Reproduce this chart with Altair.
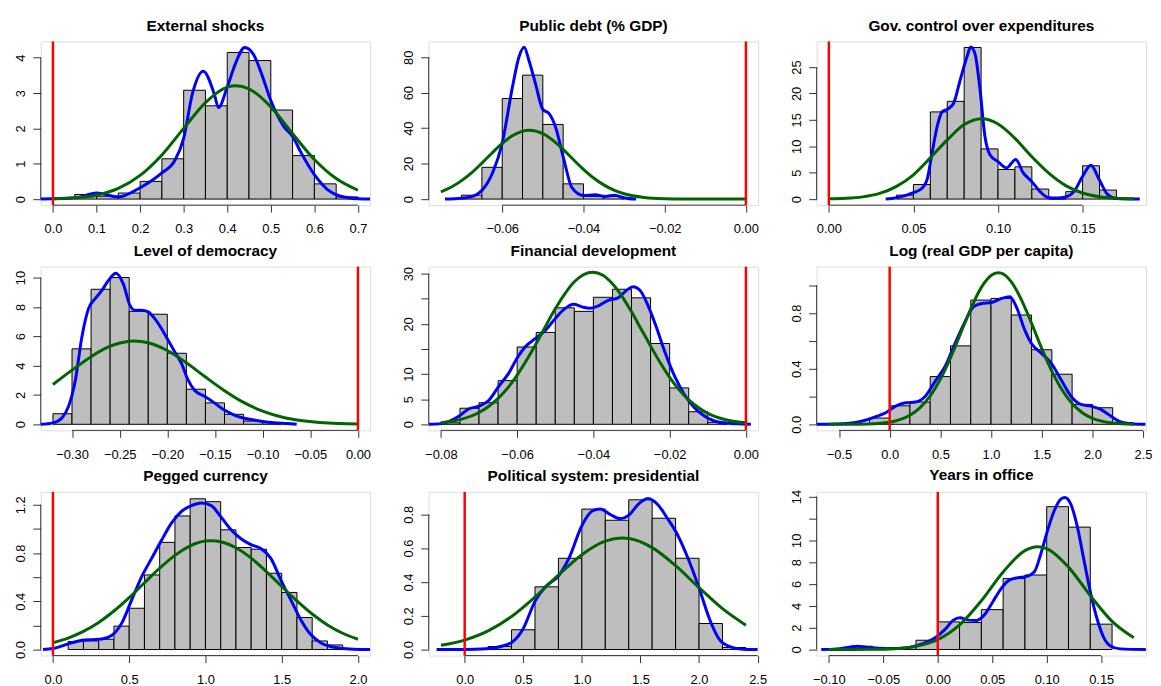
import altair as alt
import pandas as pd

FONT = "Liberation Sans"
W, H = 332, 165

# ---------------- data ----------------
titles = ["External shocks", "Public debt (% GDP)", "Gov. control over expenditures",
          "Level of democracy", "Financial development", "Log (real GDP per capita)",
          "Pegged currency", "Political system: presidential", "Years in office"]

# histogram bin edges and bar heights (density)
p1_edges = [0.05, 0.10, 0.15, 0.20, 0.25, 0.30, 0.35, 0.40, 0.45, 0.50, 0.55, 0.60, 0.65, 0.70]
p1_heights = [0.13, 0.08, 0.17, 0.50, 1.14, 3.08, 2.64, 4.15, 3.92, 2.52, 1.23, 0.43, 0.06]
p2_edges = [-0.070, -0.065, -0.060, -0.055, -0.050, -0.045, -0.040, -0.035, -0.030]
p2_heights = [2.2, 17.9, 56.7, 69.9, 42.1, 8.6, 1.5, 1.5]
p3_edges = [0.04, 0.05, 0.06, 0.07, 0.08, 0.09, 0.10, 0.11, 0.12, 0.13, 0.14, 0.15, 0.16, 0.17]
p3_heights = [0.75, 2.76, 16.5, 18.5, 28.7, 9.5, 5.6, 6.1, 1.9, 0.0, 1.4, 6.3, 1.7]
p4_edges = [-0.32, -0.30, -0.28, -0.26, -0.24, -0.22, -0.20, -0.18, -0.16, -0.14, -0.12, -0.10, -0.08]
p4_heights = [0.72, 5.14, 9.2, 10.0, 7.7, 7.5, 4.84, 2.39, 1.46, 0.68, 0.22, 0.12]
p5_edges = [-0.080, -0.075, -0.070, -0.065, -0.060, -0.055, -0.050, -0.045, -0.040,
            -0.035, -0.030, -0.025, -0.020, -0.015, -0.010, -0.005]
p5_heights = [0.3, 3.2, 4.3, 8.7, 15.4, 18.3, 23.2, 22.5, 25.3, 26.9, 25.2, 16.1, 7.25, 2.5, 0.4]
p6_edges = [-0.2, 0.0, 0.2, 0.4, 0.6, 0.8, 1.0, 1.2, 1.4, 1.6, 1.8, 2.0, 2.2, 2.4]
p6_heights = [0.045, 0.133, 0.16, 0.343, 0.564, 0.893, 0.905, 0.786, 0.536, 0.36, 0.143, 0.119, 0.012]
p7_edges = [0.1, 0.2, 0.3, 0.4, 0.5, 0.6, 0.7, 0.8, 0.9, 1.0, 1.1, 1.2, 1.3, 1.4, 1.5, 1.6, 1.7, 1.8, 1.9]
p7_heights = [0.066, 0.071, 0.085, 0.194, 0.342, 0.618, 0.888, 1.107, 1.249, 1.225, 0.992,
              0.845, 0.831, 0.632, 0.473, 0.265, 0.071, 0.038]
p8_edges = [0.2, 0.4, 0.6, 0.8, 1.0, 1.2, 1.4, 1.6, 1.8, 2.0, 2.2, 2.4]
p8_heights = [0.018, 0.117, 0.371, 0.540, 0.831, 0.765, 0.886, 0.777, 0.540, 0.154, 0.012]
p9_edges = [-0.08, -0.06, -0.04, -0.02, 0.0, 0.02, 0.04, 0.06, 0.08, 0.10, 0.12, 0.14, 0.16]
p9_heights = [0.3, 0.0, 0.18, 0.85, 2.53, 2.47, 3.65, 6.49, 6.82, 13.07, 11.2, 2.32]

# kernel density (blue)
p1_bx = [-0.028, 0.0, 0.05, 0.10, 0.15, 0.20, 0.25, 0.28, 0.30, 0.32, 0.345, 0.37, 0.38, 0.40,
         0.42, 0.44, 0.46, 0.48, 0.50, 0.53, 0.55, 0.57, 0.60, 0.63, 0.66, 0.70, 0.728]
p1_by = [0.0, 0.01, 0.03, 0.17, 0.06, 0.32, 0.74, 1.10, 1.72, 2.98, 3.62, 2.98, 2.59, 3.17,
         3.87, 4.29, 4.10, 3.50, 2.79, 2.05, 1.77, 1.30, 0.69, 0.27, 0.08, 0.01, 0.0]
p2_bx = [-0.0741, -0.070, -0.0668, -0.0648, -0.0624, -0.060, -0.0575, -0.0559, -0.0546, -0.0534,
         -0.0518, -0.050, -0.0485, -0.0469, -0.045, -0.0428, -0.040, -0.0371, -0.0347, -0.0323,
         -0.030, -0.027]
p2_by = [0.0, 0.5, 2.0, 5.4, 14.7, 31.5, 63.0, 80.0, 85.6, 78.0, 65.0, 50.5, 48.3, 40.8, 24.0,
         6.3, 2.0, 2.4, 1.5, 2.2, 0.6, 0.0]
p3_bx = [0.0336, 0.040, 0.0454, 0.050, 0.0552, 0.0581, 0.061, 0.064, 0.0669, 0.070, 0.0737,
         0.0776, 0.0816, 0.0839, 0.0864, 0.0894, 0.0923, 0.0952, 0.100, 0.105, 0.1105, 0.1148,
         0.120, 0.1255, 0.130, 0.1353, 0.140, 0.1451, 0.150, 0.1549, 0.1598, 0.1647, 0.170, 0.1838]
p3_by = [0.0, 0.25, 0.7, 1.2, 2.1, 3.7, 8.7, 13.7, 16.5, 17.0, 18.1, 22.5, 26.9, 28.8, 27.5,
         20.6, 11.8, 8.4, 7.1, 5.9, 7.5, 5.0, 3.3, 1.2, 0.25, 0.2, 0.4, 1.5, 4.3, 6.4, 3.7, 0.9,
         0.1, 0.0]
p4_bx = [-0.333, -0.320, -0.3104, -0.3035, -0.2965, -0.2896, -0.2826, -0.2757, -0.2687, -0.2618,
         -0.254, -0.2462, -0.2392, -0.234, -0.2271, -0.2201, -0.2132, -0.2062, -0.1993, -0.1923,
         -0.1853, -0.1784, -0.1715, -0.161, -0.1506, -0.1402, -0.1297, -0.1193, -0.1088,
         -0.0984, -0.088, -0.074, -0.0643]
p4_by = [0.0, 0.1, 0.45, 1.24, 3.0, 5.97, 7.9, 8.56, 9.12, 9.8, 10.3, 9.57, 8.1, 7.77, 7.77,
         7.66, 7.2, 6.53, 5.74, 4.95, 4.17, 3.04, 2.32, 1.91, 1.46, 0.97, 0.63, 0.41, 0.29, 0.18,
         0.11, 0.05, 0.0]
p5_bx = [-0.0832, -0.080, -0.0752, -0.0726, -0.070, -0.0674, -0.0648, -0.0622, -0.060, -0.0578,
         -0.0552, -0.0526, -0.050, -0.0474, -0.0452, -0.043, -0.0409, -0.0387, -0.0361, -0.0335,
         -0.0313, -0.0296, -0.0278, -0.0257, -0.0235, -0.0213, -0.0187, -0.0161, -0.0135,
         -0.0109, -0.0083, -0.0048, 0.0013]
p5_by = [0.0, 0.13, 1.65, 3.1, 3.6, 4.8, 7.6, 10.2, 13.2, 15.5, 17.1, 18.7, 21.1, 23.1, 23.9,
         23.4, 23.1, 23.6, 24.7, 25.2, 26.7, 27.4, 26.7, 23.7, 19.4, 14.5, 9.6, 5.9, 3.3, 1.65,
         0.66, 0.2, 0.0]
p6_bx = [-0.725, -0.529, -0.398, -0.268, -0.137, -0.039, 0.059, 0.157, 0.255, 0.352, 0.450,
         0.548, 0.646, 0.744, 0.826, 0.907, 1.005, 1.103, 1.185, 1.25, 1.332, 1.397, 1.495,
         1.593, 1.691, 1.789, 1.886, 1.984, 2.082, 2.18, 2.278, 2.409, 2.523]
p6_by = [0.0, 0.002, 0.007, 0.024, 0.055, 0.083, 0.131, 0.155, 0.16, 0.202, 0.31, 0.417, 0.583,
         0.738, 0.845, 0.869, 0.876, 0.905, 0.917, 0.845, 0.679, 0.583, 0.512, 0.44, 0.321,
         0.202, 0.143, 0.131, 0.107, 0.06, 0.017, 0.002, 0.0]
p7_bx = [-0.065, 0.0, 0.061, 0.126, 0.191, 0.256, 0.321, 0.387, 0.452, 0.517, 0.582, 0.647,
         0.712, 0.777, 0.843, 0.908, 0.973, 1.038, 1.103, 1.168, 1.233, 1.298, 1.364, 1.429,
         1.494, 1.559, 1.624, 1.689, 1.755, 1.82, 1.885, 1.972, 2.08]
p7_by = [0.0, 0.008, 0.03, 0.057, 0.077, 0.082, 0.087, 0.118, 0.221, 0.413, 0.604, 0.755,
         0.905, 1.047, 1.145, 1.192, 1.214, 1.192, 1.096, 0.992, 0.918, 0.869, 0.837, 0.755,
         0.577, 0.413, 0.249, 0.126, 0.057, 0.025, 0.011, 0.003, 0.0]
p8_bx = [-0.24, 0.0, 0.183, 0.324, 0.409, 0.499, 0.600, 0.691, 0.800, 0.888, 1.001, 1.085,
         1.156, 1.240, 1.325, 1.409, 1.480, 1.564, 1.649, 1.733, 1.804, 1.889, 2.001, 2.086,
         2.184, 2.297, 2.41, 2.5]
p8_by = [0.0, 0.0, 0.004, 0.021, 0.045, 0.123, 0.285, 0.373, 0.435, 0.538, 0.734, 0.818, 0.831,
         0.80, 0.775, 0.80, 0.859, 0.894, 0.857, 0.773, 0.695, 0.568, 0.363, 0.187, 0.051, 0.01,
         0.0, 0.0]
p9_bx = [-0.107, -0.0933, -0.0812, -0.0736, -0.066, -0.0538, -0.0417, -0.0295, -0.0204, -0.0115,
         -0.0024, 0.0067, 0.0143, 0.0203, 0.028, 0.0355, 0.0431, 0.0507, 0.0583, 0.066, 0.0735,
         0.081, 0.0887, 0.0947, 0.1008, 0.1069, 0.113, 0.1166, 0.1221, 0.1282, 0.1342, 0.1403,
         0.1464, 0.1524, 0.1585, 0.1676, 0.191]
p9_by = [0.0, 0.06, 0.21, 0.3, 0.21, 0.12, 0.09, 0.15, 0.33, 0.63, 1.09, 1.84, 2.69, 2.9, 2.69,
         2.66, 3.2, 4.4, 5.6, 6.37, 6.58, 6.67, 7.12, 8.78, 10.9, 12.7, 13.76, 13.9, 13.3, 11.2,
         8.18, 5.16, 2.75, 1.09, 0.33, 0.06, 0.0]

# fitted normal curve (green)
p1_gx = [0.0, 0.05, 0.10, 0.15, 0.20, 0.25, 0.30, 0.35, 0.40, 0.42, 0.45, 0.50, 0.55, 0.60, 0.65, 0.70]
p1_gy = [0.01, 0.04, 0.11, 0.30, 0.67, 1.25, 2.00, 2.73, 3.17, 3.21, 3.12, 2.61, 1.85, 1.12, 0.58, 0.25]
p2_gx = [-0.0751, -0.0725, -0.070, -0.0675, -0.065, -0.0625, -0.060, -0.0575, -0.0533, -0.050,
         -0.0475, -0.045, -0.0425, -0.040, -0.0375, -0.035, -0.0325, -0.030, -0.025, -0.020,
         -0.015, -0.010, 0.0]
p2_gy = [4.1, 6.8, 10.4, 14.9, 20.3, 26.0, 31.4, 35.7, 38.8, 36.9, 33.1, 28.0, 22.3, 16.8, 11.9,
         8.0, 5.0, 3.0, 0.9, 0.2, 0.03, 0.0, 0.0]
p3_gx = [0.0, 0.01, 0.02, 0.03, 0.04, 0.05, 0.06, 0.07, 0.08, 0.0904, 0.10, 0.11, 0.12, 0.13,
         0.14, 0.15, 0.16, 0.17, 0.1803]
p3_gy = [0.04, 0.14, 0.42, 1.07, 2.4, 4.6, 7.8, 11.2, 14.1, 15.2, 14.2, 11.5, 8.0, 4.9, 2.55,
         1.15, 0.45, 0.15, 0.05]
p4_gx = [-0.32, -0.30, -0.28, -0.26, -0.24, -0.2347, -0.22, -0.20, -0.18, -0.16, -0.14, -0.12,
         -0.10, -0.08, -0.06, -0.04, -0.02, 0.0]
p4_gy = [2.71, 3.69, 4.61, 5.32, 5.66, 5.68, 5.56, 5.03, 4.19, 3.22, 2.29, 1.49, 0.90, 0.50,
         0.26, 0.12, 0.05, 0.02]
p5_gx = [-0.080, -0.075, -0.070, -0.0675, -0.065, -0.0625, -0.060, -0.0575, -0.055, -0.0525,
         -0.050, -0.0475, -0.045, -0.0402, -0.0375, -0.035, -0.0325, -0.030, -0.0275, -0.025,
         -0.0225, -0.020, -0.0175, -0.015, -0.0125, -0.010, -0.005, 0.0]
p5_gy = [0.31, 0.92, 2.34, 3.55, 5.15, 7.2, 9.8, 12.8, 16.1, 19.6, 23.0, 26.0, 28.4, 30.3, 29.7,
         28.0, 25.5, 22.4, 19.0, 15.6, 12.3, 9.35, 6.86, 4.85, 3.35, 2.18, 0.85, 0.29]
p6_gx = [-0.6, -0.3, 0.0, 0.1, 0.2, 0.3, 0.4, 0.5, 0.6, 0.7, 0.8, 0.9, 1.0, 1.07, 1.1, 1.2, 1.3,
         1.4, 1.5, 1.6, 1.7, 1.8, 1.9, 2.0, 2.1, 2.2, 2.409]
p6_gy = [0.0, 0.001, 0.015, 0.033, 0.065, 0.12, 0.204, 0.324, 0.478, 0.654, 0.83, 0.979, 1.07,
         1.09, 1.087, 1.024, 0.895, 0.726, 0.546, 0.382, 0.248, 0.149, 0.083, 0.043, 0.021,
         0.009, 0.001]
p7_gx = [0.0, 0.1, 0.2, 0.3, 0.4, 0.5, 0.6, 0.7, 0.8, 0.9, 1.0, 1.038, 1.1, 1.2, 1.3, 1.4, 1.5,
         1.6, 1.7, 1.8, 1.9, 2.0]
p7_gy = [0.057, 0.095, 0.150, 0.224, 0.319, 0.430, 0.553, 0.674, 0.780, 0.859, 0.899, 0.902,
         0.893, 0.843, 0.757, 0.645, 0.523, 0.403, 0.294, 0.204, 0.135, 0.085]
p8_gx = [-0.203, 0.0, 0.2, 0.4, 0.6, 0.8, 1.0, 1.2, 1.344, 1.4, 1.6, 1.8, 2.0, 2.2, 2.4]
p8_gy = [0.025, 0.056, 0.110, 0.195, 0.310, 0.440, 0.561, 0.641, 0.6595, 0.657, 0.603, 0.496,
         0.366, 0.242, 0.144]
p9_gx = [-0.10, -0.08, -0.06, -0.04, -0.02, 0.0, 0.02, 0.04, 0.06, 0.08, 0.0918, 0.10, 0.12,
         0.14, 0.16, 0.18]
p9_gy = [0.0, 0.003, 0.016, 0.075, 0.29, 0.90, 2.25, 4.46, 7.10, 9.05, 9.41, 9.24, 7.54, 4.93,
         2.58, 1.08]

# x limits and y maxima of each panel
xlims = [[0.0, 0.7], [-0.0751, 0.0], [0.0, 0.1803], [-0.32, 0.0], [-0.08, 0.0],
         [-0.6, 2.409], [0.0, 2.0], [-0.203, 2.4], [-0.10, 0.18]]
ymaxs = [4.29, 85.5, 28.7, 10.33, 30.2, 1.09, 1.256, 0.897, 13.87]

# axis ticks
xticks = [[0.0, 0.1, 0.2, 0.3, 0.4, 0.5, 0.6, 0.7], [-0.06, -0.04, -0.02, 0.0],
          [0.0, 0.05, 0.10, 0.15], [-0.30, -0.25, -0.20, -0.15, -0.10, -0.05, 0.0],
          [-0.08, -0.06, -0.04, -0.02, 0.0], [-0.5, 0.0, 0.5, 1.0, 1.5, 2.0, 2.5],
          [0.0, 0.5, 1.0, 1.5, 2.0], [0.0, 0.5, 1.0, 1.5, 2.0, 2.5],
          [-0.10, -0.05, 0.0, 0.05, 0.10, 0.15]]
xfmts = [".1f", ".2f", ".2f", ".2f", ".2f", ".1f", ".1f", ".1f", ".2f"]
yticks = [[0, 1, 2, 3, 4], [0, 20, 40, 60, 80], [0, 5, 10, 15, 20, 25], [0, 2, 4, 6, 8, 10],
          [0, 5, 10, 15, 20, 25, 30], [0.0, 0.2, 0.4, 0.6, 0.8, 1.0],
          [0.0, 0.2, 0.4, 0.6, 0.8, 1.0, 1.2], [0.0, 0.2, 0.4, 0.6, 0.8],
          [0, 2, 4, 6, 8, 10, 12, 14]]
yfmts = ["d", "d", "d", "d", "d", ".1f", ".1f", ".1f", "d"]
yhidden = [[], [], [], [], [15, 25], [0.2, 0.6, 1.0], [0.2, 0.6, 1.0], [], [12]]
ref_x = [0.0] * 9

edges_all = [p1_edges, p2_edges, p3_edges, p4_edges, p5_edges, p6_edges, p7_edges, p8_edges, p9_edges]
heights_all = [p1_heights, p2_heights, p3_heights, p4_heights, p5_heights, p6_heights,
               p7_heights, p8_heights, p9_heights]
bx_all = [p1_bx, p2_bx, p3_bx, p4_bx, p5_bx, p6_bx, p7_bx, p8_bx, p9_bx]
by_all = [p1_by, p2_by, p3_by, p4_by, p5_by, p6_by, p7_by, p8_by, p9_by]
gx_all = [p1_gx, p2_gx, p3_gx, p4_gx, p5_gx, p6_gx, p7_gx, p8_gx, p9_gx]
gy_all = [p1_gy, p2_gy, p3_gy, p4_gy, p5_gy, p6_gy, p7_gy, p8_gy, p9_gy]

AXC = "#333333"


def make_panel(i):
    lo, hi = xlims[i]
    r = hi - lo
    xs = alt.Scale(domain=[lo - 0.04 * r, hi + 0.04 * r], nice=False, zero=False)
    ym = ymaxs[i]
    ys = alt.Scale(domain=[-0.04 * ym, 1.04 * ym], nice=False, zero=False)
    xaxis = alt.Axis(values=xticks[i], format=xfmts[i], title=None, domain=False, grid=False,
                     tickSize=7, tickColor=AXC, tickWidth=1, labelFontSize=13, labelFont=FONT,
                     labelColor="black", labelPadding=11, labelOverlap=False, labelFlush=False)
    yargs = dict(values=yticks[i], format=yfmts[i], title=None, domain=False, grid=False,
                 tickSize=8, tickColor=AXC, tickWidth=1, labelFontSize=13, labelFont=FONT,
                 labelColor="black", labelAngle=270, labelAlign="center",
                 labelBaseline="bottom", labelPadding=5.5, labelOverlap=False, labelFlush=False)
    if yhidden[i]:
        yargs["labelExpr"] = "indexof(%s, datum.value) >= 0 ? '' : datum.label" % str(yhidden[i])
    yaxis = alt.Axis(**yargs)

    def X(f):
        return alt.X(f, type="quantitative", scale=xs, axis=xaxis)

    def Y(f):
        return alt.Y(f, type="quantitative", scale=ys, axis=yaxis)

    e = edges_all[i]
    bars_df = pd.DataFrame({"lo": e[:-1], "hi": e[1:], "h": heights_all[i],
                            "z": [0.0] * len(heights_all[i])})
    bars = alt.Chart(bars_df).mark_rect(fill="#BEBEBE", stroke="black", strokeWidth=1).encode(
        x=X("lo"), x2="hi", y=Y("h"), y2="z")
    blue = alt.Chart(pd.DataFrame({"x": bx_all[i], "y": by_all[i]})).mark_line(
        color="#0000FF", strokeWidth=3, interpolate="monotone", clip=True).encode(
        x=X("x"), y=Y("y"), order="x:Q")
    green = alt.Chart(pd.DataFrame({"x": gx_all[i], "y": gy_all[i]})).mark_line(
        color="#006400", strokeWidth=3, interpolate="monotone", clip=True).encode(
        x=X("x"), y=Y("y"), order="x:Q")
    red = alt.Chart(pd.DataFrame({"x": [ref_x[i]]})).mark_rule(
        color="#FF0000", strokeWidth=2.5).encode(x=X("x"), y=alt.value(0), y2=alt.value(H))
    xline = alt.Chart(pd.DataFrame({"a": [xticks[i][0]], "b": [xticks[i][-1]]})).mark_rule(
        color=AXC, strokeWidth=1).encode(x=X("a"), x2="b", y=alt.value(H))
    yline = alt.Chart(pd.DataFrame({"a": [yticks[i][0]], "b": [yticks[i][-1]]})).mark_rule(
        color=AXC, strokeWidth=1).encode(y=Y("a"), y2="b", x=alt.value(0))
    return alt.layer(bars, blue, green, red, xline, yline).properties(
        width=W, height=H,
        title=alt.TitleParams(text=titles[i], fontSize=15.5, font=FONT, fontWeight="bold",
                              anchor="middle", offset=6, color="black"))


chart = alt.concat(*[make_panel(i) for i in range(9)], columns=3,
                   spacing={"row": 62, "column": 59}, bounds="flush").properties(
    padding={"left": 5, "top": 7, "right": 0, "bottom": 0}
).configure_view(stroke=None).configure(font=FONT)

chart.save("out.html", embed_options={"renderer": "svg", "actions": False})
